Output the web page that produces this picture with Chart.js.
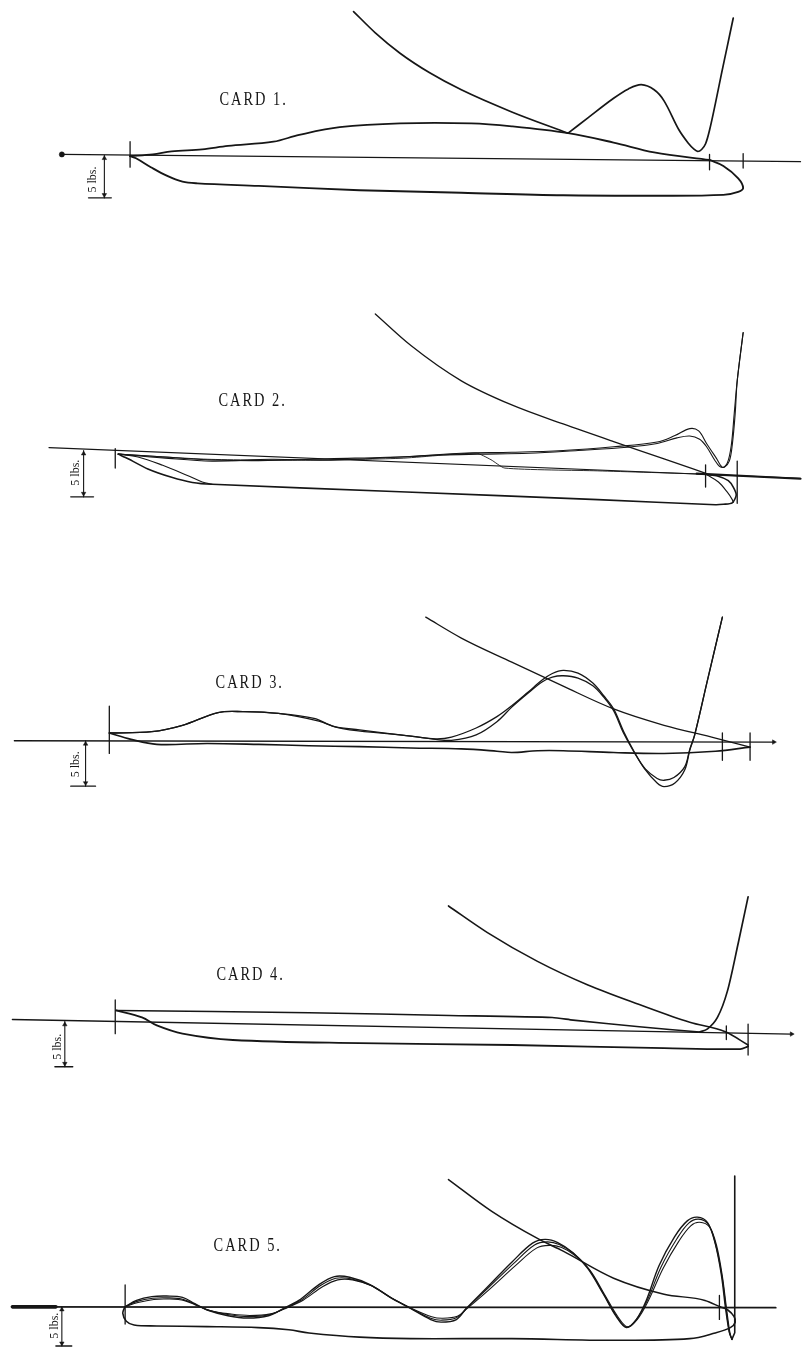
<!DOCTYPE html>
<html>
<head>
<meta charset="utf-8">
<script src="https://cdn.jsdelivr.net/npm/chart.js@4.4.1/dist/chart.umd.min.js"></script>
<style>
  html, body { margin: 0; padding: 0; background: #fff; }
  #sheet { position: relative; width: 805px; height: 1351px; overflow: hidden; background: #fff; }
  #sheet canvas { position: absolute; left: 0; }
</style>
</head>
<body>
<div id="sheet"></div>
<script>
// Indicator cards. x = position along the card, y = pressure in lbs above (+) or below (-) the atmospheric line.

const cardTitles = ['CARD 1.', 'CARD 2.', 'CARD 3.', 'CARD 4.', 'CARD 5.'];
const scaleLabel = '5 lbs.';
const scaleLbs = 5;

// ---- Card 1 ----
const card1Atmos = [[58, 0.1], [805, -0.75]];
const card1Upper = [[127, -0.1], [150, 0.1], [169, 0.45], [200, 0.7], [226, 1.1], [272, 1.6], [298, 2.4], [339, 3.3], [400, 3.75], [472, 3.75], [513, 3.4], [570, 2.6], [616, 1.5], [657, 0.35], [713, -0.55]];
const card1Expansion = [[353, 16.9], [375, 14.4], [400, 12.0], [430, 9.7], [462, 7.7], [513, 5.1], [570, 2.6]];
const card1Wave = [[570, 2.6], [590, 4.4], [616, 6.7], [631, 7.8], [644, 8.3], [657, 7.7], [667, 6.4], [682, 3.0], [692, 1.35], [697, 0.75], [701, 0.45], [705, 0.68], [709, 1.36], [713, 2.95], [719, 6.14], [725, 9.55], [731, 12.84], [737, 16.14]];
const card1Lower = [[127, -0.1], [133, -0.35], [148, -1.4], [164, -2.4], [180, -3.1], [195, -3.3], [257, -3.6], [359, -4.1], [462, -4.4], [565, -4.7], [660, -4.75], [727, -4.65], [742, -4.3], [747, -3.85], [742, -2.7], [727, -1.25], [713, -0.55]];
const card1Ticks = [[127, 1.6, -1.4], [713, 0.1, -1.7], [747, 0.2, -1.5]];

// ---- Card 2 ----
const card2Atmos = [[45, 0.3], [805, -3.0]];
const card2AtmosEnd = [[700, -2.5], [805, -3.05]];
const card2UpperA = [[115, -0.4], [154, -0.65], [205, -1.0], [257, -1.1], [328, -0.9], [411, -0.65], [462, -0.3], [513, -0.2], [565, 0.0], [616, 0.4], [660, 0.9], [678, 1.6], [693, 2.35], [702, 2.1], [710, 0.75], [720, -0.85], [726, -1.8], [731, -1.35], [735, 0.55], [738, 4.0], [741, 7.5], [747, 12.7]];
const card2UpperB = [[115, -0.4], [160, -0.8], [210, -1.15], [270, -0.95], [330, -1.05], [400, -0.7], [440, -0.5], [480, -0.4], [530, -0.3], [580, 0.0], [630, 0.35], [660, 0.75], [680, 1.35], [693, 1.55], [703, 1.2], [710, 0.4], [718, -1.0], [723, -1.7], [728, -1.8], [733, -1.15], [736, 0.6], [739, 4.05], [741, 7.5], [747, 12.7]];
const card2Return = [[115, -0.4], [205, -0.95], [300, -1.05], [400, -0.85], [477, -0.3], [492, -1.0], [506, -1.9], [600, -2.2], [708, -2.55]];
const card2Expansion = [[375, 14.7], [411, 11.3], [462, 7.5], [513, 4.9], [565, 2.85], [616, 0.95], [667, -0.9], [710, -2.5]];
const card2Lower = [[115, -0.4], [125, -0.9], [145, -2.0], [169, -2.9], [190, -3.45], [210, -3.65], [400, -4.45], [600, -5.3], [719, -5.85], [727, -5.8], [736, -5.65], [740, -4.8], [737, -3.95], [732, -3.25], [721, -2.75], [710, -2.6]];
const card2LowerB = [[115, -0.4], [135, -0.7], [160, -1.6], [185, -2.7], [200, -3.4], [210, -3.65]];
const card2LowerEnd = [[710, -2.6], [722, -3.4], [731, -4.5], [736, -5.3], [737, -5.6]];
const card2Ticks = [[112, 0.2, -1.9], [709, -1.55, -3.95], [741, -1.15, -5.7]];

// ---- Card 3 ----
const card3Atmos = [[10, 0], [778, -0.15]];
const card3UpperA = [[106, 0.85], [149, 1.0], [180, 1.7], [216, 3.1], [241, 3.2], [277, 3.0], [313, 2.45], [334, 1.55], [359, 1.2], [411, 0.5], [436, 0.2], [452, 0.4], [477, 1.4], [498, 2.65], [513, 3.85], [529, 5.3], [544, 6.7], [554, 7.4], [565, 7.75], [580, 7.45], [595, 6.35], [606, 4.95], [616, 3.5], [626, 1.05], [636, -1.05], [647, -3.05], [660, -4.65], [667, -5.05], [678, -4.65], [688, -3.2], [693, -1.05], [698, 0.65], [711, 6.7], [726, 13.6]];
const card3UpperB = [[106, 0.85], [149, 1.0], [180, 1.7], [216, 3.1], [241, 3.2], [277, 3.0], [318, 2.15], [335, 1.5], [349, 1.2], [411, 0.5], [436, 0.15], [452, 0.05], [477, 0.65], [498, 2.1], [513, 3.7], [529, 5.2], [544, 6.5], [554, 7.0], [565, 7.15], [580, 6.9], [595, 6.05], [606, 4.8], [616, 3.3], [626, 0.85], [637, -1.3], [648, -3.1], [660, -4.15], [667, -4.35], [677, -4.05], [688, -2.85], [693, -0.95], [698, 0.65], [711, 6.7], [726, 13.6]];
const card3Expansion = [[426, 13.6], [462, 11.3], [513, 8.65], [565, 6.0], [616, 3.5], [667, 1.7], [719, 0.3], [754, -0.7]];
const card3Lower = [[106, 0.85], [128, 0.15], [154, -0.4], [205, -0.3], [257, -0.4], [308, -0.55], [359, -0.65], [411, -0.8], [462, -0.9], [498, -1.15], [513, -1.3], [539, -1.1], [565, -1.1], [616, -1.3], [667, -1.4], [719, -1.15], [754, -0.7]];
const card3Ticks = [[106, 3.8, -1.4], [726, 0.85, -2.15], [754, 0.85, -2.15]];

// ---- Card 4 ----
const card4Atmos = [[8, 0.2], [796, -1.4]];
const card4Upper = [[113, 1.2], [308, 0.95], [450, 0.65], [554, 0.43], [575, 0.14], [642, -0.6], [703, -1.17]];
const card4Steep = [[703, -1.17], [711, -0.82], [721, 0.43], [731, 3.3], [742, 8.6], [752, 13.7]];
const card4Expansion = [[449, 12.7], [488, 9.8], [539, 6.6], [590, 4.0], [642, 1.85], [693, -0.1], [729, -1.15], [752, -2.6]];
const card4Lower = [[113, 1.2], [139, 0.43], [154, -0.45], [180, -1.35], [231, -2.05], [359, -2.4], [513, -2.6], [667, -2.95], [744, -3.05], [752, -2.75]];
const card4Ticks = [[112, 2.35, -1.35], [730, -0.5, -2.0], [752, -0.3, -3.7]];

// ---- Card 5 ----
const card5Atmos = [[8, 0], [780, -0.1]];
const card5AtmosHeavy = [[8, 0], [52, 0]];
const card5WaveA = [[121.7, 0], [133.5, 0.82], [149, 1.3], [164, 1.38], [180, 1.22], [192.5, 0.4], [205, -0.4], [226, -1.13], [246, -1.43], [267, -1.13], [282, -0.21], [297.7, 0.82], [318, 2.84], [333.7, 3.87], [349, 3.78], [369.6, 2.84], [390, 1.22], [410.7, -0.21], [431, -1.62], [441.5, -1.95], [457, -1.62], [467, -0.21], [487.7, 2.44], [513, 5.7], [534, 8.13], [546.7, 8.62], [559.5, 8.21], [575, 6.91], [590, 4.88], [605.7, 1.62], [618.6, -1.22], [629, -2.65], [639, -1.62], [649, 0.82], [662, 5.28], [677.6, 8.94], [690.5, 10.98], [700.7, 11.46], [711, 10.77], [718.7, 8.13], [725, 4.06], [729, 0], [733, -3.26], [735.6, -4.15]];
const card5WaveB = [[121.7, 0], [134, 0.7], [150, 1.1], [165, 1.15], [181, 0.95], [194, 0.25], [207, -0.45], [227, -1.0], [247, -1.25], [268, -1.0], [284, -0.15], [300, 0.85], [320, 2.75], [335, 3.65], [350, 3.6], [370, 2.75], [391, 1.15], [411, -0.2], [431, -1.45], [442, -1.7], [457, -1.4], [467, -0.2], [489, 2.4], [515, 5.55], [536, 7.9], [549, 8.3], [561, 7.95], [576, 6.75], [591, 4.8], [606, 1.6], [619, -1.2], [629, -2.6], [639, -1.6], [650, 0.8], [664, 5.1], [680, 8.7], [692, 10.7], [702, 11.2], [712, 10.5], [719, 8.0], [725.5, 4.0], [729.5, 0], [733, -3.2], [735.6, -4.15]];
const card5WaveC = [[121.7, 0], [135, 0.55], [151, 0.95], [166, 1.0], [182, 0.8], [195, 0.15], [208, -0.5], [228, -0.9], [248, -1.1], [269, -0.9], [286, -0.1], [302, 0.85], [322, 2.6], [337, 3.45], [352, 3.45], [372, 2.65], [392, 1.1], [412, -0.2], [432, -1.25], [443, -1.45], [458, -1.2], [468, -0.2], [491, 2.3], [517, 5.3], [538, 7.5], [551, 7.85], [563, 7.6], [577, 6.55], [592, 4.7], [607, 1.55], [620, -1.2], [630, -2.55], [640, -1.6], [651, 0.75], [666, 4.9], [682, 8.4], [694, 10.35], [703, 10.8], [713, 10.2], [720, 7.9], [726, 3.9], [730, 0], [733.5, -3.2], [735.6, -4.15]];
const card5Stroke = [[735.6, -4.15], [738.5, -3.3], [738.5, 16.7]];
const card5Expansion = [[449, 16.26], [492.8, 12.2], [539, 8.74], [565, 7.11], [616, 3.66], [667, 1.62], [708.4, 0.82], [723.8, 0]];
const card5Lower = [[723.8, 0], [731.5, -0.4], [737.7, -1.22], [739, -1.95], [734, -2.65], [718.7, -3.33], [693, -4.06], [616, -4.27], [513, -4.06], [410.7, -4.06], [359, -3.87], [308, -3.33], [287.5, -2.93], [256.7, -2.65], [205, -2.52], [154, -2.44], [131, -2.32], [123.2, -1.83], [119.6, -0.82], [121.7, 0]];
const card5Ticks = [[122, 2.8, -2.2], [723, 1.45, -1.6]];

// ---- sheet layout (pixels) ----
const layout = [
  { top: 0,    height: 270, zeroPx: 156,  pxPerLb: 8.8, title: [252, 6.5], scaleX: 101, bar: [85, 108], scaleText: [89, -2.85] },
  { top: 270,  height: 270, zeroPx: 452,  pxPerLb: 9.6, title: [251, 5.3], scaleX: 80,  bar: [67, 90],  scaleText: [72, -2.4] },
  { top: 540,  height: 270, zeroPx: 743,  pxPerLb: 9.4, title: [248, 6.3], scaleX: 82,  bar: [67, 92],  scaleText: [72, -2.6] },
  { top: 810,  height: 270, zeroPx: 1024, pxPerLb: 9.4, title: [249, 5.1], scaleX: 61,  bar: [51, 69],  scaleText: [54, -2.8] },
  { top: 1080, height: 271, zeroPx: 1310, pxPerLb: 8.1, title: [246, 7.7], scaleX: 58,  bar: [52, 68],  scaleText: [51, -2.4] }
];

const INK = '#161616';

function pts(arr) { return arr.map(([x, y]) => ({ x, y })); }
function trace(arr, width, tension) {
  return {
    data: pts(arr), showLine: true, borderColor: INK, borderWidth: width,
    pointRadius: 0, pointHoverRadius: 0, tension: tension === undefined ? 0.35 : tension,
    fill: false, clip: false, borderCapStyle: 'round', borderJoinStyle: 'round'
  };
}
// smooth curve that never overshoots between readings (x increases along it)
function smooth(arr, width) {
  return Object.assign(trace(arr, width, 0.4), { cubicInterpolationMode: 'monotone' });
}
function ticks(list) {
  return list.map(([x, a, b]) => trace([[x, a], [x, b]], 1.3, 0));
}
function heads(list, style) {
  return {
    data: list.map(([x, y]) => ({ x, y })), showLine: false,
    pointStyle: style || 'triangle', pointRadius: 2.6, pointRotation: list.map(p => p[2]),
    pointBackgroundColor: INK, pointBorderColor: INK, pointBorderWidth: 0.5, clip: false
  };
}
function scaleMarker(L) {
  return [
    trace([[L.scaleX, 0], [L.scaleX, -scaleLbs]], 1.1, 0),
    trace([[L.bar[0], -scaleLbs], [L.bar[1], -scaleLbs]], 1.4, 0),
    heads([[L.scaleX, -0.35, 0], [L.scaleX, -scaleLbs + 0.35, 180]])
  ];
}

const cards = [
  [trace(card1Atmos, 1.3, 0), heads([[58, 0.1, 0]], 'circle'),
   trace(card1Upper, 1.8), smooth(card1Expansion, 1.7), trace(card1Wave, 1.7), trace(card1Lower, 1.9),
   ...ticks(card1Ticks)],
  [trace(card2Atmos, 1.2, 0), trace(card2AtmosEnd, 2.2, 0),
   trace(card2UpperA, 1.1), trace(card2UpperB, 1.1), trace(card2Return, 0.9, 0.2),
   smooth(card2Expansion, 1.3), trace(card2Lower, 1.6, 0.25), trace(card2LowerB, 1.1), trace(card2LowerEnd, 1.1),
   ...ticks(card2Ticks)],
  [trace(card3Atmos, 1.4, 0), heads([[778, -0.15, 90]]),
   trace(card3UpperA, 1.3), trace(card3UpperB, 1.3), smooth(card3Expansion, 1.3), trace(card3Lower, 1.6),
   ...ticks(card3Ticks)],
  [trace(card4Atmos, 1.4, 0), heads([[796, -1.4, 90]]),
   trace(card4Upper, 1.6, 0.2), smooth(card4Steep, 1.7), smooth(card4Expansion, 1.6), trace(card4Lower, 1.8),
   ...ticks(card4Ticks)],
  [trace(card5Atmos, 1.7, 0), trace(card5AtmosHeavy, 3.6, 0),
   trace(card5WaveA, 1.4), trace(card5WaveB, 1.1), trace(card5WaveC, 1.1), trace(card5Stroke, 1.6, 0),
   smooth(card5Expansion, 1.5), trace(card5Lower, 1.6), ...ticks(card5Ticks)]
];

// Draws the card titles and the rotated "5 lbs." scale label at data positions.
const sheetText = {
  id: 'sheetText',
  afterDatasetsDraw(chart, args, opts) {
    const { ctx, scales: { x, y } } = chart;
    (opts.items || []).forEach(t => {
      ctx.save();
      ctx.fillStyle = INK;
      ctx.font = t.font;
      ctx.textAlign = 'center';
      ctx.textBaseline = 'middle';
      ctx.translate(x.getPixelForValue(t.x), y.getPixelForValue(t.y));
      if (t.rotate) ctx.rotate(t.rotate * Math.PI / 180);
      ctx.scale(t.sx || 1, 1);
      if ('letterSpacing' in ctx) ctx.letterSpacing = t.spacing || '0px';
      ctx.fillText(t.text, 0, 0);
      ctx.restore();
    });
  }
};

const sheet = document.getElementById('sheet');
layout.forEach((L, i) => {
  const canvas = document.createElement('canvas');
  canvas.width = 805; canvas.height = L.height;
  canvas.style.top = L.top + 'px';
  canvas.style.width = '805px'; canvas.style.height = L.height + 'px';
  sheet.appendChild(canvas);

  new Chart(canvas, {
    type: 'scatter',
    data: { datasets: [...cards[i], ...scaleMarker(L)] },
    options: {
      responsive: false, animation: false, devicePixelRatio: 1,
      layout: { padding: 0 },
      events: [],
      plugins: {
        legend: { display: false }, tooltip: { enabled: false },
        sheetText: {
          items: [
            { text: cardTitles[i], x: L.title[0], y: L.title[1], font: '18px "Liberation Serif", serif', sx: 0.8, spacing: '2.5px' },
            { text: scaleLabel, x: L.scaleText[0], y: L.scaleText[1], font: '12px "Liberation Serif", serif', rotate: -90 }
          ]
        }
      },
      scales: {
        x: { type: 'linear', display: false, min: 0, max: 805 },
        y: { type: 'linear', display: false,
             min: (L.zeroPx - L.top - L.height) / L.pxPerLb,
             max: (L.zeroPx - L.top) / L.pxPerLb }
      }
    },
    plugins: [sheetText]
  });
});
</script>
</body>
</html>
